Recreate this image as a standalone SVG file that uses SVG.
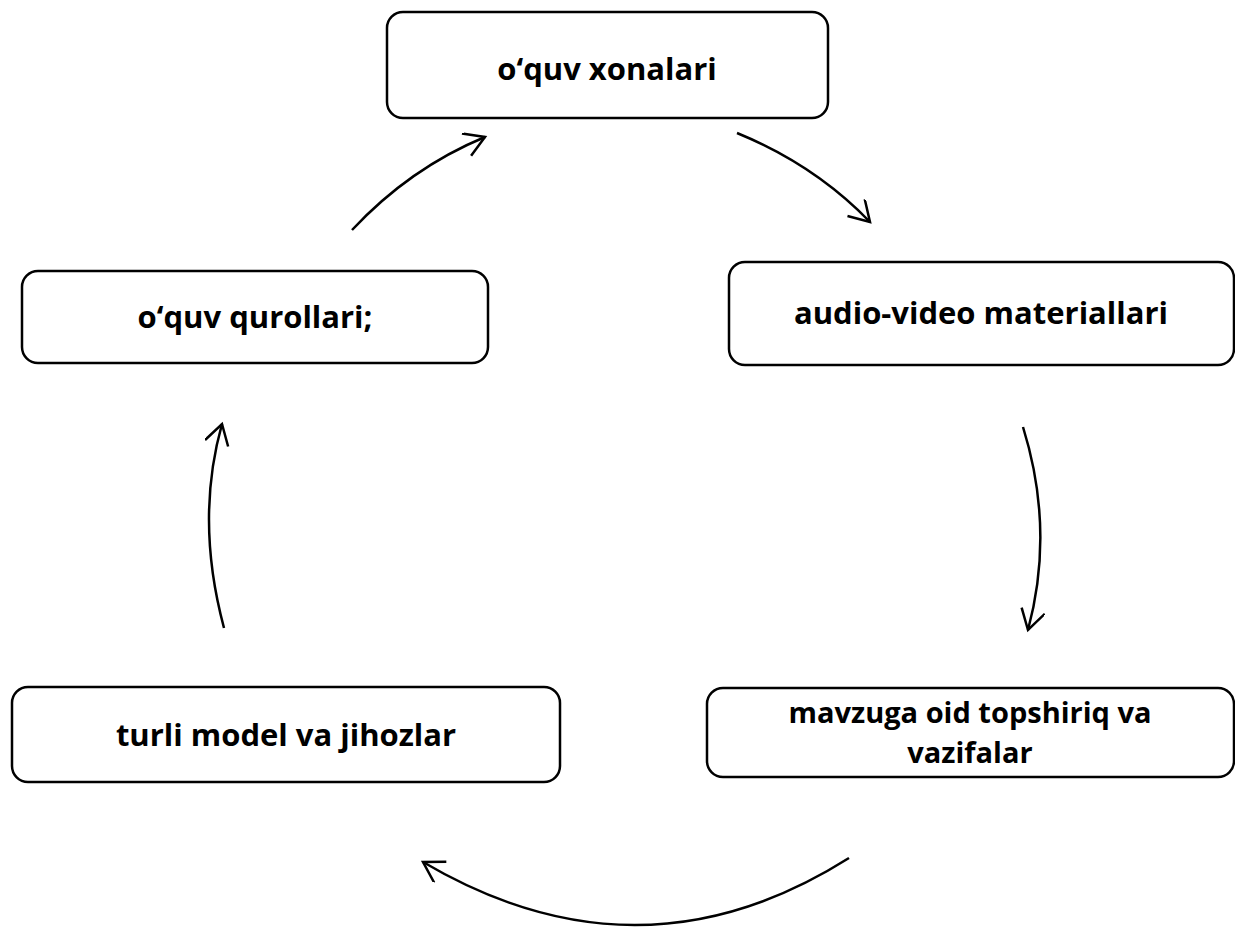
<svg xmlns="http://www.w3.org/2000/svg" width="1235" height="928" viewBox="0 0 1235 928">
<style>
.box{fill:#fff;stroke:#000;stroke-width:2.5}
.lbl{font-family:"Open Sans","Liberation Sans",sans-serif;font-weight:bold;font-size:31px;fill:#000;text-anchor:middle}
.sm{font-size:29px}
.con{fill:none;stroke:#000;stroke-width:2.5}
</style>
<defs>
<marker id="arr" markerWidth="30" markerHeight="30" refX="22" refY="12" orient="auto" markerUnits="userSpaceOnUse">
<path d="M2,0 L22,12 L2,24" fill="none" stroke="#000" stroke-width="2.5"/>
</marker>
</defs>
<rect width="1235" height="928" fill="#fff"/>
<g id="n1"><rect class="box" x="387" y="12" width="441" height="106" rx="16"/><text class="lbl" x="607" y="80">o‘quv xonalari</text></g>
<g id="n2"><rect class="box" x="22" y="271" width="466" height="92" rx="16"/><text class="lbl" x="255" y="328">o‘quv qurollari;</text></g>
<g id="n3"><rect class="box" x="729" y="262" width="505" height="103" rx="16"/><text class="lbl" x="981" y="324">audio-video materiallari</text></g>
<g id="n4"><rect class="box" x="12" y="687" width="548" height="95" rx="16"/><text class="lbl" x="286" y="746">turli model va jihozlar</text></g>
<g id="n5"><rect class="box" x="707" y="688" width="527" height="89" rx="16"/><text class="lbl sm" x="970" y="723">mavzuga oid topshiriq va</text><text class="lbl sm" x="970" y="763">vazifalar</text></g>
<g id="connectors">
<path class="con" d="M352,230 Q410,168 485,137" marker-end="url(#arr)"/>
<path class="con" d="M737,133 Q815,165 870,222" marker-end="url(#arr)"/>
<path class="con" d="M1023,427 Q1055,530 1028,630" marker-end="url(#arr)"/>
<path class="con" d="M849,858 Q640,990 423,862" marker-end="url(#arr)"/>
<path class="con" d="M224,628 Q195,520 222,424" marker-end="url(#arr)"/>
</g>
</svg>
